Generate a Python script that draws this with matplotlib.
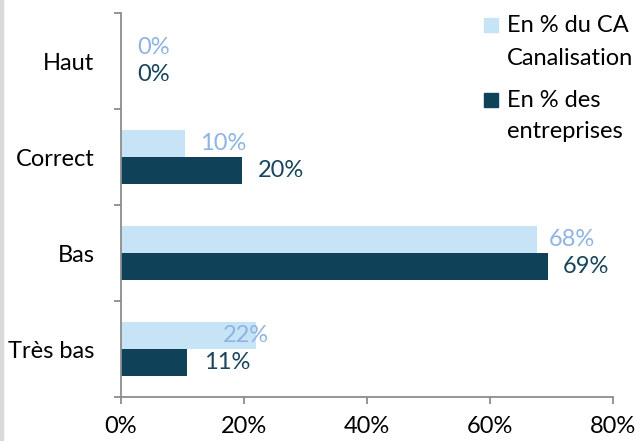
import numpy as np
import matplotlib.pyplot as plt
from matplotlib.patches import Rectangle
from matplotlib.ticker import FixedLocator, PercentFormatter

plt.rcParams['font.family'] = ['Lato', 'DejaVu Sans']

# ------------------------------
# données
# ------------------------------
categories = ["Très bas", "Bas", "Correct", "Haut"]
pct_ca = [21.9, 67.6, 10.4, 0]           # En % du CA Canalisation
pct_entreprises = [10.7, 69.4, 19.7, 0]  # En % des entreprises

c_light = "#C6E4F5"
c_dark = "#0F4259"
c_light_txt = "#8DB4E2"
c_dark_txt = "#17455C"
c_axis = "#8C8C8C"
fs = 17

fig = plt.figure(figsize=(6.39, 4.41), dpi=100)
ax = fig.add_axes([121/639, 1-397/441, (613-121)/639, (397-13)/441])

y = np.arange(len(categories))
h = 0.286
ax.barh(y + h/2, pct_ca, height=h, color=c_light)
ax.barh(y - h/2, pct_entreprises, height=h, color=c_dark)

# étiquettes (décalage en pixels à droite de la barre)
dx_ca = [-33, 12, 15, 16]
dx_ent = [17, 15, 16, 16]
for i in range(len(categories)):
    ax.annotate(f"{pct_ca[i]:.0f}%", (pct_ca[i], y[i] + h/2), xytext=(dx_ca[i]*0.72, 0),
                textcoords="offset points", ha="left", va="center",
                fontsize=fs, color=c_light_txt)
    ax.annotate(f"{pct_entreprises[i]:.0f}%", (pct_entreprises[i], y[i] - h/2), xytext=(dx_ent[i]*0.72, 0),
                textcoords="offset points", ha="left", va="center",
                fontsize=fs, color=c_dark_txt)

ax.set_xlim(0, 80)
ax.set_ylim(-0.5, len(categories) - 0.5)
ax.set_xticks([0, 20, 40, 60, 80])
ax.xaxis.set_major_formatter(PercentFormatter(decimals=0))
ax.set_yticks(y)
ax.set_yticklabels(categories)
ax.yaxis.set_minor_locator(FixedLocator(np.arange(-0.5, len(categories), 1.0)))

for s in ["top", "right"]:
    ax.spines[s].set_visible(False)
for s in ["left", "bottom"]:
    ax.spines[s].set_color(c_axis)
    ax.spines[s].set_linewidth(1.3)

ax.tick_params(axis="y", which="major", length=0, pad=19, labelsize=fs)
ax.tick_params(axis="y", which="minor", length=5, width=1.3, color=c_axis, direction="out")
ax.tick_params(axis="x", length=5, width=1.3, color=c_axis, pad=9, labelsize=fs)

# légende
fig.add_artist(Rectangle((484/639, 1-32/441), 14/639, 14/441, color=c_light, transform=fig.transFigure))
fig.add_artist(Rectangle((484/639, 1-107/441), 14/639, 14/441, color=c_dark, transform=fig.transFigure))
for txt, yb in [("En % du CA", 32), ("Canalisation", 65), ("En % des", 107), ("entreprises", 138)]:
    fig.text(507/639, 1-yb/441, txt, fontsize=fs, va="baseline", ha="left")

# bordure grise à gauche
fig.add_artist(Rectangle((0, 0), 3/639, 1, color="#D9D9D9", transform=fig.transFigure))

plt.savefig("out.png", dpi=100)
